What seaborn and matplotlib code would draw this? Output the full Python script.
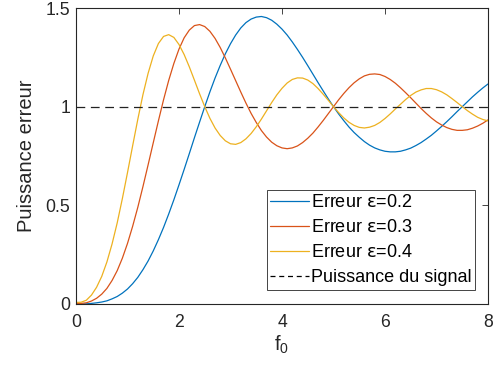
import numpy as np
import pandas as pd
import matplotlib
matplotlib.use("Agg")
import matplotlib.pyplot as plt
from matplotlib.lines import Line2D
import seaborn as sns

# ---- data ----
f0 = np.linspace(0, 8, 81)  # sampling grid, step 0.1

err_eps02 = [0.000, 0.000, 0.001, 0.003, 0.006, 0.010, 0.016, 0.026, 0.038, 0.055,
             0.076, 0.103, 0.135, 0.174, 0.218, 0.269, 0.326, 0.388, 0.456, 0.528,
             0.604, 0.682, 0.762, 0.843, 0.922, 1.000, 1.075, 1.145, 1.209, 1.268,
             1.319, 1.363, 1.399, 1.426, 1.444, 1.454, 1.457, 1.451, 1.438, 1.418,
             1.393, 1.363, 1.328, 1.290, 1.250, 1.208, 1.165, 1.122, 1.080, 1.039,
             1.000, 0.963, 0.929, 0.897, 0.869, 0.845, 0.823, 0.805, 0.791, 0.781,
             0.774, 0.771, 0.771, 0.774, 0.781, 0.790, 0.803, 0.818, 0.836, 0.855,
             0.877, 0.900, 0.924, 0.949, 0.975, 1.000, 1.025, 1.050, 1.073, 1.095,
             1.115]
err_eps03 = [0.003, 0.003, 0.006, 0.015, 0.029, 0.050, 0.079, 0.119, 0.169, 0.232,
             0.307, 0.394, 0.490, 0.595, 0.705, 0.817, 0.928, 1.035, 1.133, 1.219,
             1.292, 1.349, 1.388, 1.411, 1.416, 1.406, 1.382, 1.346, 1.300, 1.247,
             1.190, 1.132, 1.074, 1.018, 0.966, 0.920, 0.879, 0.846, 0.820, 0.802,
             0.791, 0.787, 0.791, 0.801, 0.818, 0.840, 0.866, 0.897, 0.930, 0.965,
             1.000, 1.035, 1.067, 1.096, 1.121, 1.141, 1.156, 1.164, 1.166, 1.163,
             1.153, 1.138, 1.119, 1.096, 1.071, 1.045, 1.018, 0.991, 0.966, 0.943,
             0.923, 0.907, 0.894, 0.885, 0.880, 0.880, 0.883, 0.891, 0.902, 0.916,
             0.933]
err_eps04 = [0.008, 0.009, 0.019, 0.045, 0.085, 0.140, 0.213, 0.304, 0.411, 0.534,
             0.666, 0.802, 0.936, 1.061, 1.169, 1.257, 1.320, 1.356, 1.365, 1.351,
             1.315, 1.264, 1.202, 1.134, 1.065, 1.000, 0.941, 0.892, 0.854, 0.827,
             0.812, 0.809, 0.818, 0.837, 0.864, 0.898, 0.937, 0.979, 1.021, 1.060,
             1.093, 1.120, 1.138, 1.146, 1.145, 1.135, 1.117, 1.092, 1.063, 1.032,
             1.000, 0.970, 0.943, 0.921, 0.905, 0.895, 0.892, 0.896, 0.905, 0.920,
             0.940, 0.963, 0.988, 1.012, 1.036, 1.057, 1.074, 1.085, 1.092, 1.092,
             1.086, 1.075, 1.060, 1.041, 1.021, 1.000, 0.980, 0.962, 0.946, 0.935,
             0.928]
signal_power = 1.0

labels = [r"Erreur $\epsilon$=0.2", r"Erreur $\epsilon$=0.3", r"Erreur $\epsilon$=0.4"]
colors = ["#0072BD", "#D95319", "#EDB120"]
signal_label = "Puissance du signal"

xticks = [0, 2, 4, 6, 8]
yticks = [0, 0.5, 1, 1.5]
ytick_labels = ["0", "0.5", "1", "1.5"]

# ---- styling ----
sns.set_theme(style="white")
plt.rcParams["font.family"] = ["Liberation Sans", "DejaVu Sans"]
plt.rcParams["mathtext.fontset"] = "custom"
plt.rcParams["mathtext.rm"] = "Liberation Sans"
plt.rcParams["mathtext.it"] = "DejaVu Sans"

axc = "#262626"

df = pd.DataFrame({
    "f0": np.concatenate([f0, f0, f0]),
    "val": np.concatenate([err_eps02, err_eps03, err_eps04]),
    "serie": [labels[0]] * len(f0) + [labels[1]] * len(f0) + [labels[2]] * len(f0),
})

fig = plt.figure(figsize=(5.0, 3.76), dpi=100)
ax = fig.add_axes([0.152, 0.1915, 0.824, 0.7872])

sns.lineplot(data=df, x="f0", y="val", hue="serie", hue_order=labels,
             palette=colors, linewidth=0.9, ax=ax, legend=False)
ax.axhline(signal_power, color="#222222", linewidth=0.9, dashes=(7, 4.5))

ax.set_xlim(0, 8)
ax.set_ylim(0, 1.5)
ax.set_xticks(xticks)
ax.set_xticklabels([str(t) for t in xticks])
ax.set_yticks(yticks)
ax.set_yticklabels(ytick_labels)

for s in ax.spines.values():
    s.set_visible(True)
    s.set_color(axc)
    s.set_linewidth(0.8)

ax.tick_params(axis="both", which="major", direction="in", length=4, width=0.6,
               color=axc, labelcolor=axc, labelsize=12.7,
               top=True, right=True)
ax.tick_params(axis="x", pad=7)
ax.tick_params(axis="y", pad=4)

ax.set_xlabel(r"f$_0$", fontsize=14.5, color=axc, labelpad=2)
ax.set_ylabel("Puissance erreur", fontsize=14.5, color=axc, labelpad=7)

handles = [Line2D([], [], color=c, linewidth=0.9) for c in colors]
handles.append(Line2D([], [], color="black", linewidth=0.9, dashes=(4, 3)))
leg = ax.legend(handles, labels + [signal_label], loc="lower right",
                bbox_to_anchor=(0.968, 0.047), borderaxespad=0,
                fontsize=13.0, handlelength=2.15, handletextpad=0.08,
                labelspacing=0.45, borderpad=0.2, fancybox=False,
                framealpha=1, edgecolor=axc)
leg.get_frame().set_linewidth(0.6)
for t in leg.get_texts():
    t.set_color("black")

fig.savefig("out.png", dpi=100)
